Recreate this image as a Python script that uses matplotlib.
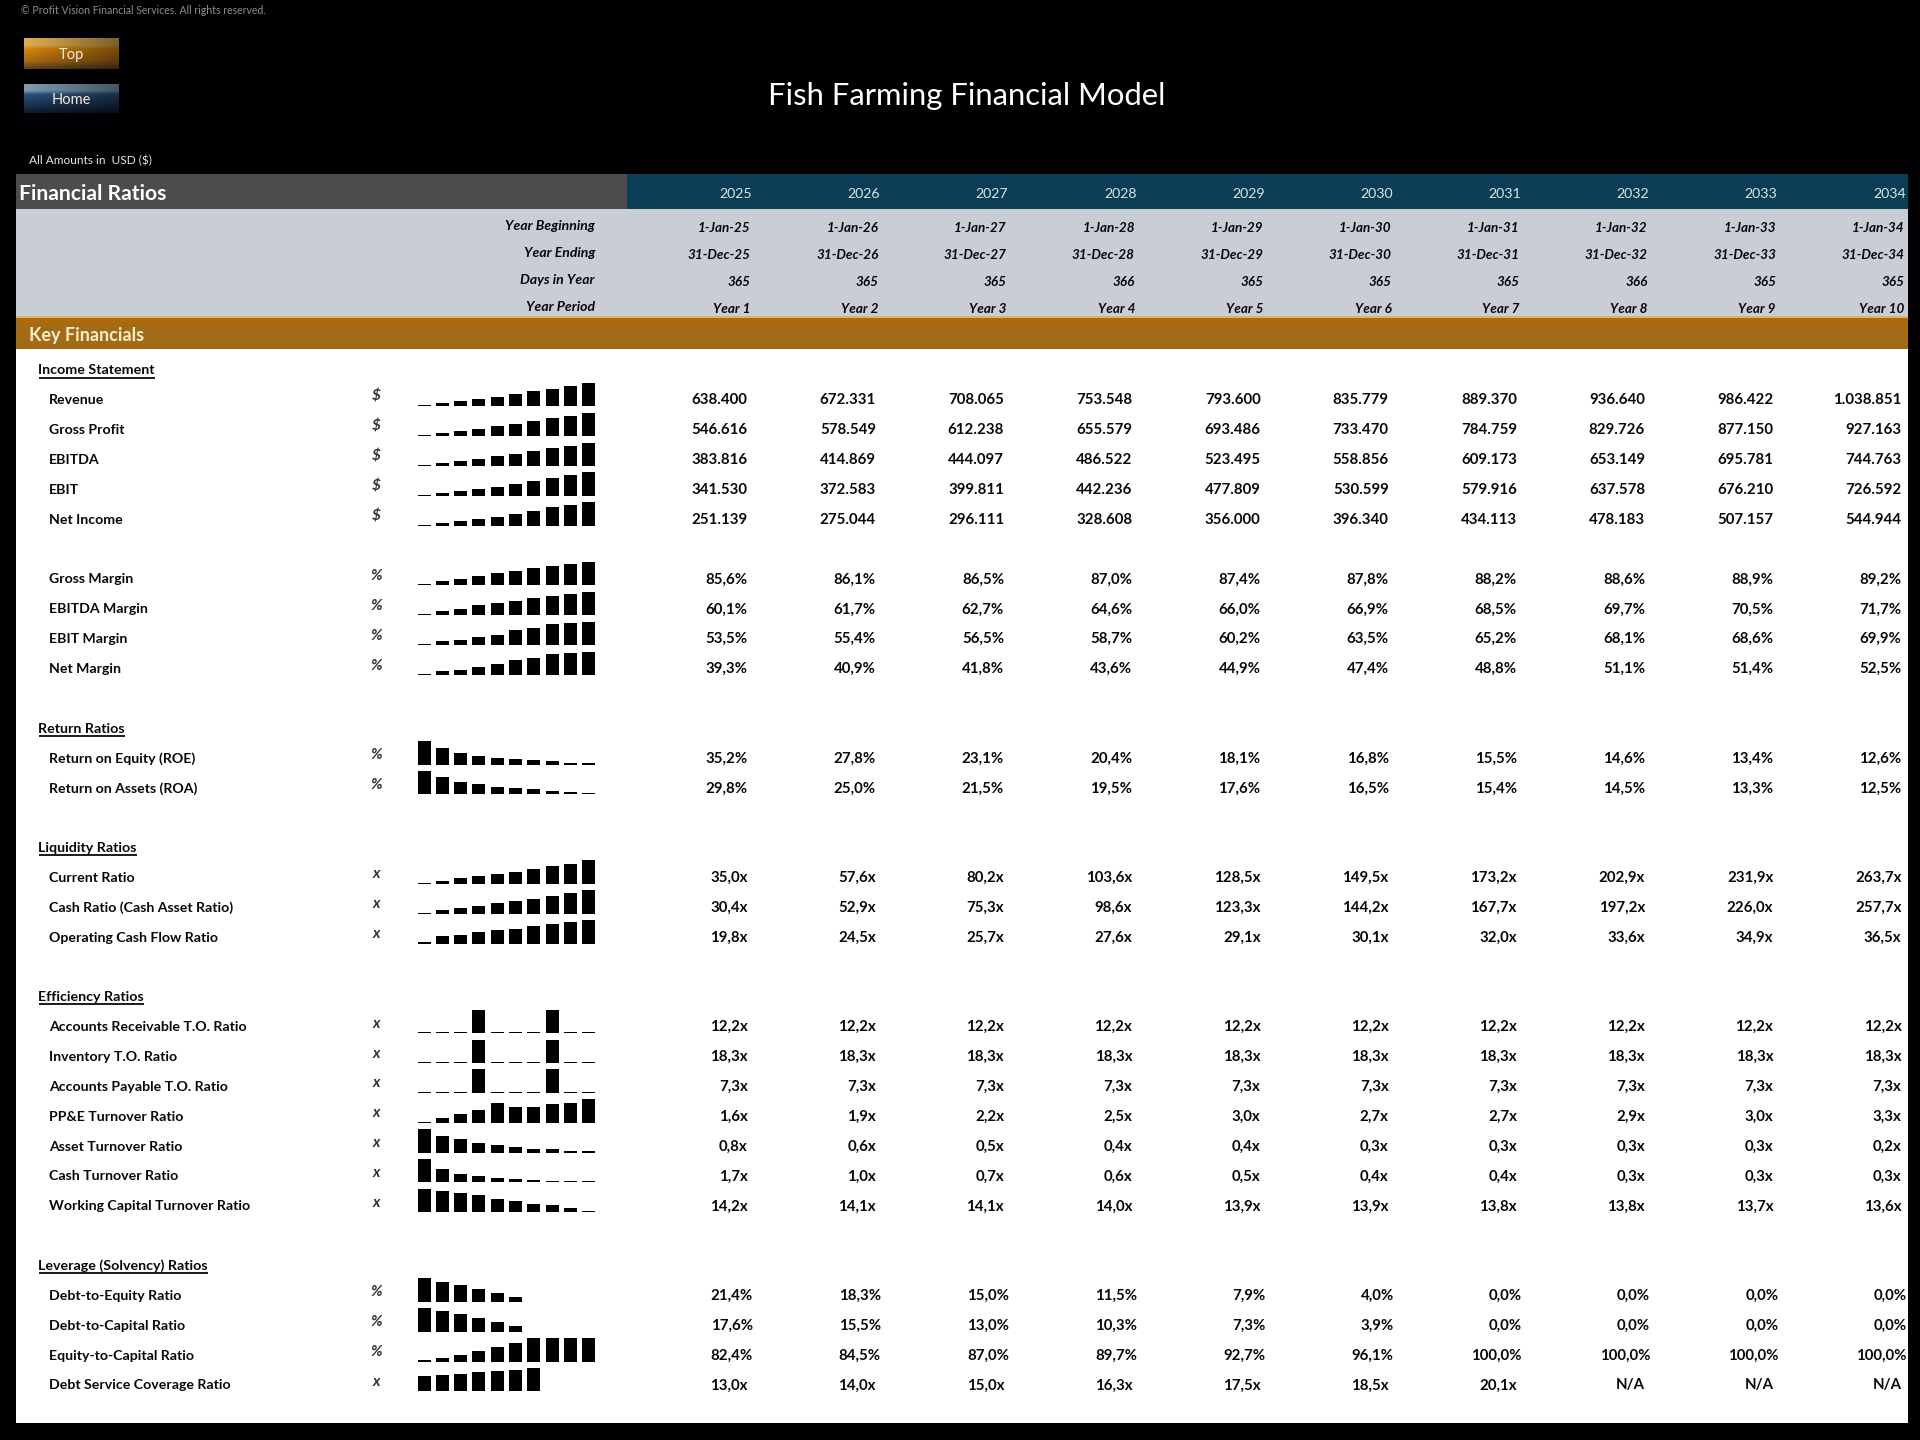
import numpy as np
import matplotlib
matplotlib.use('Agg')
import matplotlib.pyplot as plt
from matplotlib.patches import Rectangle

plt.rcParams['font.family'] = ['Lato', 'DejaVu Sans']

years = [2025, 2026, 2027, 2028, 2029, 2030, 2031, 2032, 2033, 2034]
year_begin = ['1-Jan-25', '1-Jan-26', '1-Jan-27', '1-Jan-28', '1-Jan-29', '1-Jan-30', '1-Jan-31', '1-Jan-32', '1-Jan-33', '1-Jan-34']
year_end = ['31-Dec-25', '31-Dec-26', '31-Dec-27', '31-Dec-28', '31-Dec-29', '31-Dec-30', '31-Dec-31', '31-Dec-32', '31-Dec-33', '31-Dec-34']
days_in_year = [365, 365, 365, 366, 365, 365, 365, 366, 365, 365]
year_period = ['Year 1', 'Year 2', 'Year 3', 'Year 4', 'Year 5', 'Year 6', 'Year 7', 'Year 8', 'Year 9', 'Year 10']
header_labels = ['Year Beginning', 'Year Ending', 'Days in Year', 'Year Period']

revenue = [638400, 672331, 708065, 753548, 793600, 835779, 889370, 936640, 986422, 1038851]
gross_profit = [546616, 578549, 612238, 655579, 693486, 733470, 784759, 829726, 877150, 927163]
ebitda = [383816, 414869, 444097, 486522, 523495, 558856, 609173, 653149, 695781, 744763]
ebit = [341530, 372583, 399811, 442236, 477809, 530599, 579916, 637578, 676210, 726592]
net_income = [251139, 275044, 296111, 328608, 356000, 396340, 434113, 478183, 507157, 544944]

gross_margin = [85.6, 86.1, 86.5, 87.0, 87.4, 87.8, 88.2, 88.6, 88.9, 89.2]
ebitda_margin = [60.1, 61.7, 62.7, 64.6, 66.0, 66.9, 68.5, 69.7, 70.5, 71.7]
ebit_margin = [53.5, 55.4, 56.5, 58.7, 60.2, 63.5, 65.2, 68.1, 68.6, 69.9]
net_margin = [39.3, 40.9, 41.8, 43.6, 44.9, 47.4, 48.8, 51.1, 51.4, 52.5]

roe = [35.2, 27.8, 23.1, 20.4, 18.1, 16.8, 15.5, 14.6, 13.4, 12.6]
roa = [29.8, 25.0, 21.5, 19.5, 17.6, 16.5, 15.4, 14.5, 13.3, 12.5]

current_ratio = [35.0, 57.6, 80.2, 103.6, 128.5, 149.5, 173.2, 202.9, 231.9, 263.7]
cash_ratio = [30.4, 52.9, 75.3, 98.6, 123.3, 144.2, 167.7, 197.2, 226.0, 257.7]
ocf_ratio = [19.8, 24.5, 25.7, 27.6, 29.1, 30.1, 32.0, 33.6, 34.9, 36.5]

ar_turnover = [12.17, 12.17, 12.17, 12.2, 12.17, 12.17, 12.17, 12.2, 12.17, 12.17]
inv_turnover = [18.26, 18.26, 18.26, 18.3, 18.26, 18.26, 18.26, 18.3, 18.26, 18.26]
ap_turnover = [7.3, 7.3, 7.3, 7.32, 7.3, 7.3, 7.3, 7.32, 7.3, 7.3]
ppe_turnover = [1.6, 1.9, 2.2, 2.5, 3.0, 2.7, 2.7, 2.9, 3.0, 3.3]
asset_turnover = [0.80, 0.63, 0.54, 0.44, 0.39, 0.34, 0.31, 0.29, 0.26, 0.24]
cash_turnover = [1.70, 1.04, 0.74, 0.60, 0.50, 0.44, 0.38, 0.32, 0.30, 0.28]
wc_turnover = [14.20, 14.14, 14.08, 14.03, 13.93, 13.86, 13.79, 13.77, 13.69, 13.60]

debt_equity = [21.4, 18.3, 15.0, 11.5, 7.9, 4.0, 0.0, 0.0, 0.0, 0.0]
debt_capital = [17.6, 15.5, 13.0, 10.3, 7.3, 3.9, 0.0, 0.0, 0.0, 0.0]
equity_capital = [82.4, 84.5, 87.0, 89.7, 92.7, 96.1, 100.0, 100.0, 100.0, 100.0]
dscr = [13.0, 14.0, 15.0, 16.3, 17.5, 18.5, 20.1, None, None, None]

# a string is a section title, None is an empty row
table = [
    'Income Statement',
    ('Revenue', '$', revenue),
    ('Gross Profit', '$', gross_profit),
    ('EBITDA', '$', ebitda),
    ('EBIT', '$', ebit),
    ('Net Income', '$', net_income),
    None,
    ('Gross Margin', '%', gross_margin),
    ('EBITDA Margin', '%', ebitda_margin),
    ('EBIT Margin', '%', ebit_margin),
    ('Net Margin', '%', net_margin),
    None,
    'Return Ratios',
    ('Return on Equity (ROE)', '%', roe),
    ('Return on Assets (ROA)', '%', roa),
    None,
    'Liquidity Ratios',
    ('Current Ratio', 'x', current_ratio),
    ('Cash Ratio (Cash Asset Ratio)', 'x', cash_ratio),
    ('Operating Cash Flow Ratio', 'x', ocf_ratio),
    None,
    'Efficiency Ratios',
    ('Accounts Receivable T.O. Ratio', 'x', ar_turnover),
    ('Inventory T.O. Ratio', 'x', inv_turnover),
    ('Accounts Payable T.O. Ratio', 'x', ap_turnover),
    ('PP&E Turnover Ratio', 'x', ppe_turnover),
    ('Asset Turnover Ratio', 'x', asset_turnover),
    ('Cash Turnover Ratio', 'x', cash_turnover),
    ('Working Capital Turnover Ratio', 'x', wc_turnover),
    None,
    'Leverage (Solvency) Ratios',
    ('Debt-to-Equity Ratio', '%', debt_equity),
    ('Debt-to-Capital Ratio', '%', debt_capital),
    ('Equity-to-Capital Ratio', '%', equity_capital),
    ('Debt Service Coverage Ratio', 'x', dscr),
]

BLACK = '#010104'
DARK = '#08080c'


def fmt(v, unit):
    if v is None:
        return 'N/A'
    if unit == '$':
        return f'{v:,}'.replace(',', '.')
    return f'{v:.1f}{unit}'.replace('.', ',')


def button(ax, x0, x1, y0, y1, top, mid, low, fade, label, label_y):
    # little bevelled button: vertical colour stops, darkening to the right
    stops = [0, 0.22, 0.35, 0.75, 1]
    colours = [top, top, mid, low, fade]
    t = np.linspace(0, 1, 40)
    rgb = np.array([matplotlib.colors.to_rgb(c) for c in colours])
    col = np.stack([np.interp(t, stops, rgb[:, i]) for i in range(3)], axis=1)
    dim = np.linspace(1.0, 0.55, 80)[None, :, None]
    img = col[:, None, :] * dim
    ax.imshow(img, extent=(x0, x1, y1, y0), aspect='auto', zorder=2, interpolation='bilinear')
    ax.text((x0 + x1) / 2, label_y, label, color='#f2ead8', fontsize=10.5, ha='center', va='center', zorder=3)


fig = plt.figure(figsize=(19.2, 14.4), dpi=100, facecolor=BLACK)
ax = fig.add_axes([0, 0, 1, 1])
ax.axis('off')

# page blocks
ax.add_patch(Rectangle((16, 174), 611, 35, color='#4c4c4e', lw=0))
ax.add_patch(Rectangle((627, 174), 1281, 35, color='#0b3e54', lw=0))
ax.add_patch(Rectangle((16, 209), 1892, 108, color='#c9cdd5', lw=0))
ax.add_patch(Rectangle((16, 317), 1892, 32, color='#a46b16', lw=0))
ax.add_patch(Rectangle((16, 316), 1892, 2, color='#d9b860', lw=0))
ax.add_patch(Rectangle((16, 318), 1892, 5, color='#b06a0a', lw=0))
ax.add_patch(Rectangle((16, 349), 1892, 1074, color='white', lw=0))

button(ax, 24, 119, 38, 69, '#e0b050', '#d8860e', '#a86a12', '#5a4020', 'Top', 54.5)
button(ax, 24, 119, 84, 113, '#7d9cb4', '#2d5480', '#1a3150', '#0d1a2c', 'Home', 100)

ax.text(21, 10, '© Profit Vision Financial Services. All rights reserved.', color='#8c8c8c', fontsize=7.6, va='center')
ax.text(967, 105, 'Fish Farming Financial Model', color='white', fontsize=22.3, ha='center', va='baseline')
ax.text(29, 161, 'All Amounts in  USD ($)', color='#e6e6e6', fontsize=8.6, va='center')
ax.text(19, 199.5, 'Financial Ratios', color='white', fontsize=15.2, weight='bold', va='baseline')
ax.text(29, 341, 'Key Financials', color='#f8efcf', fontsize=13, weight='bold', va='baseline')

# year header columns
for k in range(10):
    ax.text(752 + k * 128.2, 198, str(years[k]), color='#cfe8ec', fontsize=10.2, ha='right', va='baseline')
header_rows = [year_begin, year_end, days_in_year, year_period]
for r, (name, vals) in enumerate(zip(header_labels, header_rows)):
    ax.text(595, 229.5 + r * 27.3, name, color=DARK, fontsize=10.1, weight='bold', style='italic', ha='right', va='baseline')
    for k in range(10):
        ax.text(750.4 + k * 128.2, 231.5 + r * 27.3, str(vals[k]), color=DARK, fontsize=9.7, weight='bold', style='italic', ha='right', va='baseline')

renderer = fig.canvas.get_renderer()
bar_x = 417.7 + 6.5 + np.arange(10) * 18.26
for i, row in enumerate(table):
    yc = 368.5 + i * 29.85
    if row is None:
        continue
    if isinstance(row, str):
        t = ax.text(38.5, yc + 6, row, color=DARK, fontsize=10.3, weight='bold', va='baseline')
        w = t.get_window_extent(renderer).width
        ax.plot([38.5, 38.5 + w], [yc + 9, yc + 9], color=DARK, lw=1.3, solid_capstyle='butt')
        ax.set_xlim(0, 1920)
        ax.set_ylim(1440, 0)
        continue
    label, unit, vals = row
    ax.text(49, yc + 6, label, color=DARK, fontsize=10.2, weight='bold', va='baseline')
    ax.text(376, yc + 2.5, unit, color='#303038', fontsize=11, weight='bold', style='italic', ha='center', va='baseline')

    # sparkline, scaled to the row's own range; a zero floor leaves no bar
    nums = np.array([0.0 if v is None else v for v in vals], dtype=float)
    lo, hi = nums.min(), nums.max()
    if lo == 0:
        heights = nums / hi * 23.5
    else:
        heights = 1.2 + (nums - lo) / (hi - lo) * 22.3
    ax.bar(bar_x, -heights, width=13, bottom=yc + 8, color=BLACK, lw=0)

    shift = 5 if unit == '%' and label.startswith(('Debt-to', 'Equity-to')) else 0
    for k, v in enumerate(vals):
        ax.text(747.7 + shift + k * 128.2, yc + 6, fmt(v, unit), color=DARK, fontsize=10.8, weight='bold', ha='right', va='baseline')

ax.set_xlim(0, 1920)
ax.set_ylim(1440, 0)
fig.savefig('out.png', dpi=100, facecolor=BLACK)
